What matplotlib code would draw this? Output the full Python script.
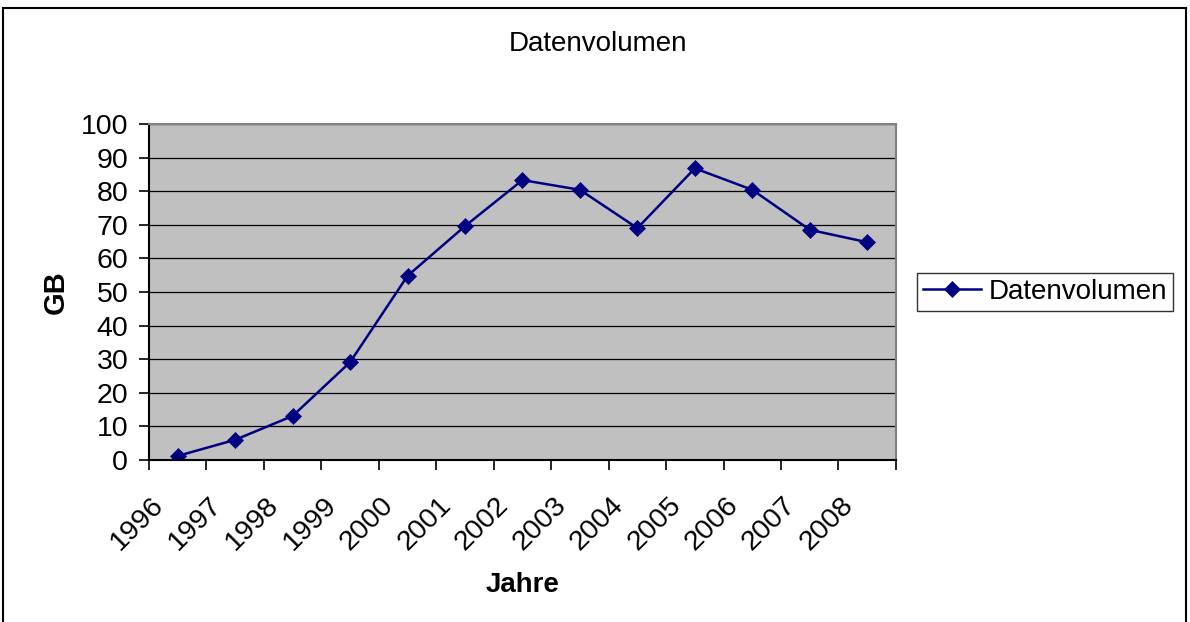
import numpy as np
import matplotlib
matplotlib.use('Agg')
from matplotlib import pyplot as plt
from matplotlib.patches import Rectangle
from matplotlib.transforms import ScaledTranslation

jahre = ['1996', '1997', '1998', '1999', '2000', '2001', '2002',
         '2003', '2004', '2005', '2006', '2007', '2008']
datenvolumen = [1.2, 6.0, 13.1, 29.1, 54.8, 69.6, 83.3,
                80.4, 69.0, 86.8, 80.4, 68.5, 64.8]

plt.rcParams['font.family'] = ['Liberation Sans', 'DejaVu Sans']

fig = plt.figure(figsize=(11.9, 6.22), dpi=100)
ax = fig.add_axes([0.1252, 0.2605, 0.6277, 0.5402])
ax.set_facecolor('#c0c0c0')

x = np.arange(len(jahre))
ax.plot(x, datenvolumen, '-', color='#000080', lw=1.8, marker='D',
        markersize=8, markeredgewidth=0.5, label='Datenvolumen')

ax.set_xlim(-0.5, len(jahre) - 0.5)
ax.set_ylim(0, 100)
ax.set_yticks(np.arange(0, 101, 10))
ax.yaxis.grid(True, color='black', lw=0.9)
ax.set_axisbelow(True)

# labels centred on categories, tick marks between categories
ax.set_xticks(x)
ax.set_xticklabels(jahre, rotation=45, ha='right', va='top',
                   rotation_mode='anchor')
ax.set_xticks(np.arange(-0.5, len(jahre)), minor=True)
ax.tick_params(axis='x', which='major', length=0, pad=23, labelsize=20.5)
ax.tick_params(axis='x', which='minor', length=7, width=1.2, direction='out')
ax.tick_params(axis='y', length=7, width=1.2, pad=8, labelsize=20.5)
off = ScaledTranslation(-0.27, 0, fig.dpi_scale_trans)
for lab in ax.get_xticklabels():
    lab.set_transform(lab.get_transform() + off)

for s in ['left', 'bottom']:
    ax.spines[s].set_color('black')
    ax.spines[s].set_linewidth(1.5)
for s in ['top', 'right']:
    ax.spines[s].set_color('#808080')
    ax.spines[s].set_linewidth(1.5)

ax.set_xlabel('Jahre', fontsize=20, fontweight='bold', labelpad=12)
ax.set_ylabel('GB', fontsize=21, fontweight='bold', labelpad=8)

fig.text(598 / 1190, 1 - 44 / 622, 'Datenvolumen', fontsize=20,
         ha='center', va='center')

leg = fig.legend(loc='center left', bbox_to_anchor=(0.7706, 0.5305),
                 fontsize=20, frameon=True, fancybox=False,
                 edgecolor='black', borderpad=0.22, handlelength=2.1,
                 handletextpad=0.25, borderaxespad=0)
leg.get_frame().set_linewidth(1.0)

# outer chart border
fig.patches.append(Rectangle((3 / 1190, -0.05), 1183 / 1190, 1.05 - 8 / 622,
                             transform=fig.transFigure, fill=False,
                             edgecolor='black', lw=1.5))

fig.savefig('out.png', dpi=100)
